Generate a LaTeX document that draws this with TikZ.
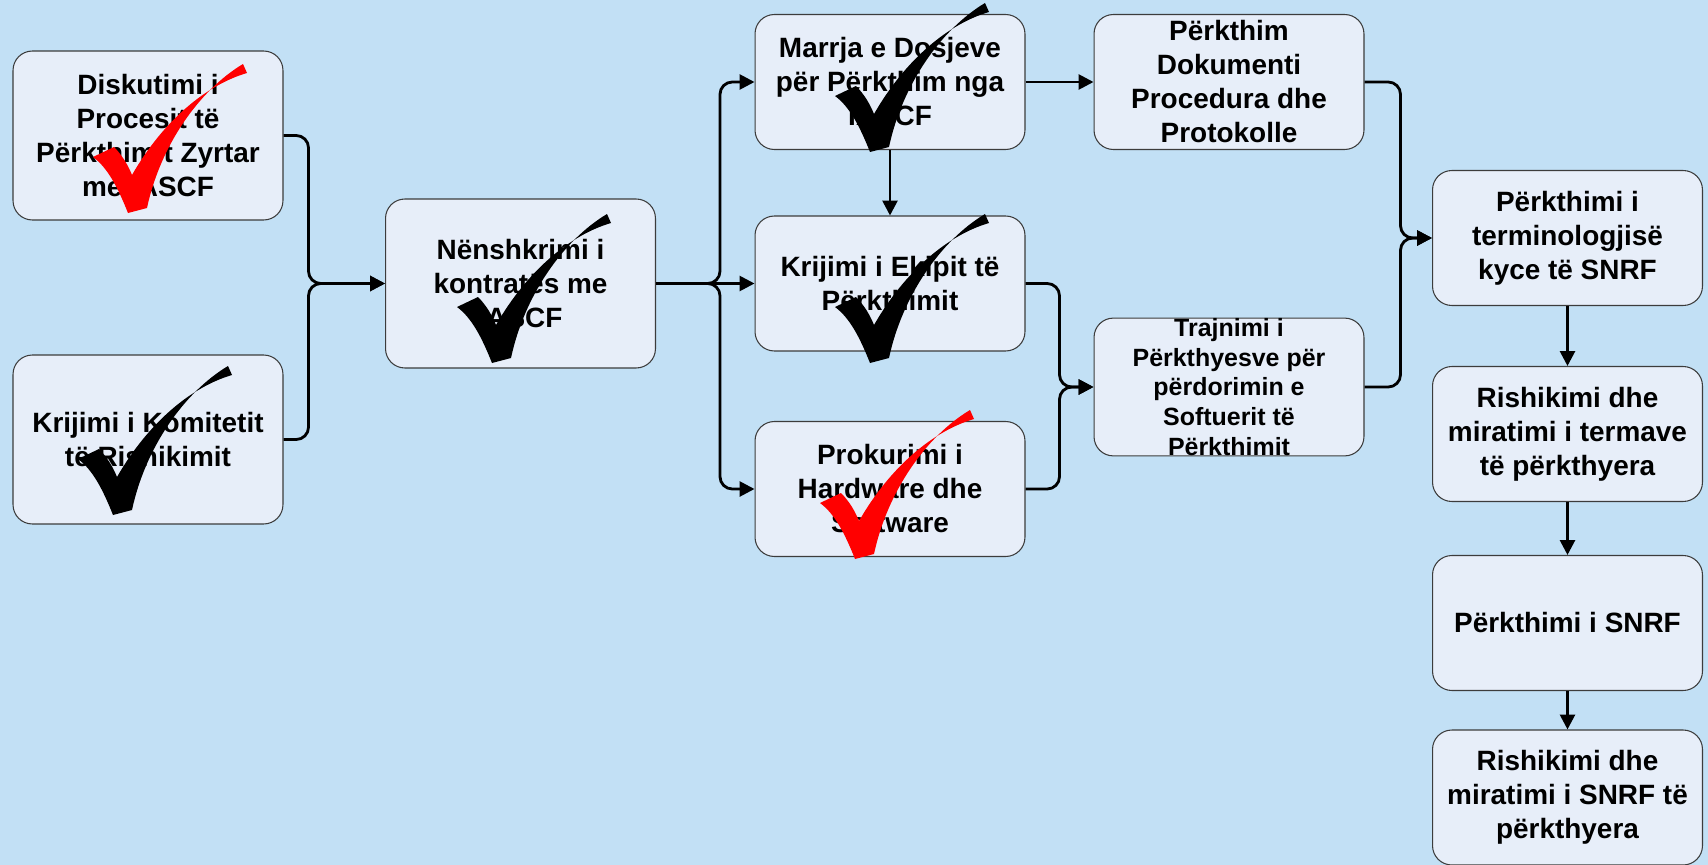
\documentclass[tikz,border=0pt]{standalone}
\usepackage{fontspec}
\setmainfont{Liberation Sans}
\usetikzlibrary{arrows.meta}
\definecolor{bgblue}{RGB}{194,224,245}
\definecolor{boxfill}{RGB}{231,238,249}
\definecolor{boxline}{RGB}{60,60,60}

\begin{document}
\begin{tikzpicture}
  [x=0.02cm,y=-0.02cm,
   box/.style={draw=boxline,fill=boxfill,line width=0.6pt,rounded corners=11pt,
     minimum width=5.4cm,minimum height=2.7cm,inner sep=0pt,align=center,
     font=\fontsize{15.9}{19.35}\selectfont\bfseries},
   tall/.style={minimum height=3.38cm},
   link/.style={line width=1.6pt,-{Triangle[length=8.5pt,width=8.5pt]},rounded corners=7pt},
   pics/tick/.style={code={
     \fill[#1] (0,0) .. controls (-10,-25) and (-20,-45) .. (-35,-56) -- (-14,-66)
       .. controls (-6,-58) and (0,-48) .. (4,-38)
       .. controls (35,-92) and (78,-128) .. (119,-140) -- (115,-149)
       .. controls (70,-122) and (32,-66) .. (19,-5) -- cycle;}}]
  \fill[bgblue] (0,0) rectangle (1708,865);
  \useasboundingbox (0,0) rectangle (1708,865);

  \node[box,tall] (A) at (148,135.5) {Diskutimi i\\Procesit të\\Përkthimit Zyrtar\\me IASCF};
  \node[box,tall] (B) at (148,439.5) {Krijimi i Komitetit\\të Rishikimit};
  \node[box,tall] (C) at (520.5,283.5) {Nënshkrimi i\\kontratës me\\IASCF};
  \node[box] (D) at (890,82) {Marrja e Dosjeve\\për Përkthim nga\\IASCF};
  \node[box] (E) at (890,283.5) {Krijimi i Ekipit të\\Përkthimit};
  \node[box] (F) at (890,489) {Prokurimi i\\Hardware dhe\\Software};
  \node[box] (G) at (1229,82) {Përkthim\\Dokumenti\\Procedura dhe\\Protokolle};
  \node[box,font=\fontsize{14.2}{17}\selectfont\bfseries] (H) at (1229,387)
    {Trajnimi i\\Përkthyesve për\\përdorimin e\\Softuerit të\\Përkthimit};
  \node[box] (I) at (1567.5,238) {Përkthimi i\\terminologjisë\\kyce të SNRF};
  \node[box] (J) at (1567.5,434) {Rishikimi dhe\\miratimi i termave\\të përkthyera};
  \node[box] (K) at (1567.5,623) {Përkthimi i SNRF};
  \node[box] (L) at (1567.5,797.5) {Rishikimi dhe\\miratimi i SNRF të\\përkthyera};

  \draw[link] (A.east) -- ++(25,0) |- (C.west);
  \draw[link] (B.east) -- ++(25,0) |- (C.west);
  \draw[link] (C.east) -- ++(64,0) |- (D.west);
  \draw[link] (C.east) -- (E.west);
  \draw[link] (C.east) -- ++(64,0) |- (F.west);
  \draw[link] (D.south) -- (E.north);
  \draw[link] (D.east) -- (G.west);
  \draw[link] (E.east) -- ++(34,0) |- (H.west);
  \draw[link] (F.east) -- ++(34,0) |- (H.west);
  \draw[link] (G.east) -- ++(36,0) |- (I.west);
  \draw[link] (H.east) -- ++(36,0) |- (I.west);
  \foreach \from/\to in {I/J,J/K,K/L}
    \draw[link] (\from.south) -- (\to.north);

  \foreach \x/\y/\c in {128/213/red,113/515/black,492/363/black,870/152/black,870/363/black,855/559/red}
    \pic at (\x,\y) {tick=\c};

\end{tikzpicture}
\end{document}
